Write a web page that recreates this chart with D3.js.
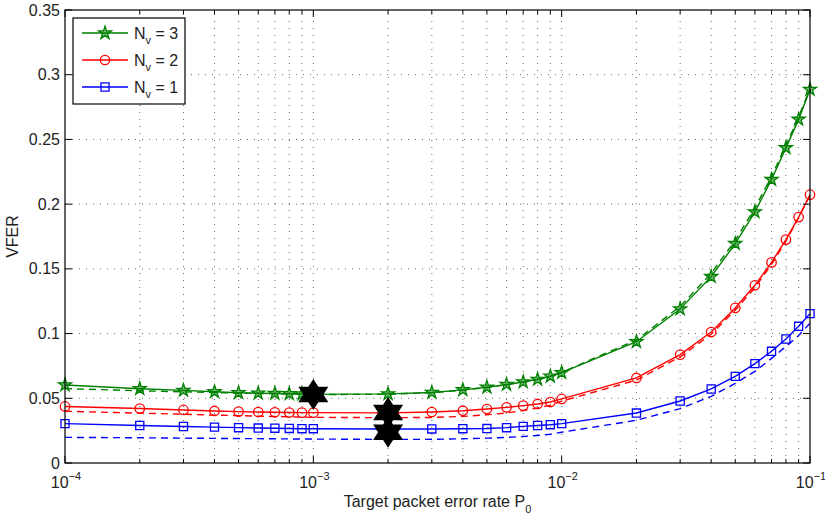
<!DOCTYPE html>
<html>
<head>
<meta http-equiv="Content-Type" content="text/html;charset=utf-8"/>
<script src="https://d3js.org/d3.v7.min.js"></script>
<style type="text/css">
body { margin: 0; background: #fff; }
text { font-family: "Liberation Sans", Arial, sans-serif; fill: #222; }
.grid { fill: none; stroke: #333; stroke-width: 1px; stroke-dasharray: 1,6; stroke-opacity: .75; }
.box { fill: none; stroke: #000; stroke-width: 1.2px; }
.tick { stroke: #000; stroke-width: 1px; }
.line { fill: none; stroke-width: 1.4px; }
.dash { fill: none; stroke-width: 1.4px; stroke-dasharray: 7,5; }
</style>
</head>
<body>
<script>

var width = 825, height = 520;
var plotLeft = 65, plotRight = 810, plotTop = 10, plotBottom = 463;

// target packet error rate P0
var p0 = [1e-4, 2e-4, 3e-4, 4e-4, 5e-4, 6e-4, 7e-4, 8e-4, 9e-4,
          1e-3, 2e-3, 3e-3, 4e-3, 5e-3, 6e-3, 7e-3, 8e-3, 9e-3,
          1e-2, 2e-2, 3e-2, 4e-2, 5e-2, 6e-2, 7e-2, 8e-2, 9e-2, 1e-1];

// VFER, solid (with markers) and dashed curves
var nv3 = [.0603, .0574, .0561, .0550, .0543, .0539, .0537, .0535, .0533,
           .0530, .0534, .0545, .0565, .0585, .0607, .0626, .0646, .0670,
           .0698, .0937, .1190, .1440, .1695, .1940, .2190, .2435, .2655, .2886];
var nv3d = [.0575, .0558, .0550, .0544, .0540, .0537, .0535, .0533, .0531,
            .0529, .0531, .0543, .0563, .0583, .0605, .0625, .0646, .0670,
            .0700, .0950, .1210, .1465, .1720, .1970, .2215, .2455, .2675, .2890];
var nv2 = [.0437, .0421, .0410, .0402, .0397, .0394, .0392, .0390, .0389,
           .0389, .0387, .0394, .0404, .0417, .0430, .0443, .0456, .0471,
           .0495, .0657, .0837, .1012, .1198, .1373, .1550, .1726, .1900, .2073];
var nv2d = [.0400, .0385, .0377, .0370, .0366, .0362, .0359, .0357, .0355,
            .0353, .0350, .0352, .0360, .0372, .0387, .0405, .0425, .0447,
            .0478, .0640, .0820, .0995, .1180, .1355, .1535, .1715, .1895, .2070];
var nv1 = [.0304, .0290, .0282, .0277, .0273, .0270, .0269, .0267, .0265,
           .0265, .0263, .0263, .0265, .0266, .0273, .0283, .0290, .0296,
           .0304, .0386, .0479, .0572, .0669, .0768, .0863, .0958, .1056, .1154];
var nv1d = [.0198, .0195, .0192, .0190, .0189, .0188, .0187, .0186, .0185,
            .0185, .0182, .0183, .0187, .0192, .0198, .0205, .0213, .0222,
            .0238, .0330, .0420, .0515, .0615, .0708, .0808, .0900, .0985, .1080];

// optimum points (big black stars)
var optX = [1e-3, 2e-3, 2e-3];
var optY = [.0530, .0390, .0238];

var yTicks = [0, .05, .1, .15, .2, .25, .3, .35];
var yLabels = ["0", "0.05", "0.1", "0.15", "0.2", "0.25", "0.3", "0.35"];
var xDecades = [1e-4, 1e-3, 1e-2, 1e-1];
var xExp = ["\u22124", "\u22123", "\u22122", "\u22121"];

var series = [
  {name: "3", color: "#008000", solid: nv3, dashed: nv3d, marker: "star"},
  {name: "2", color: "#ff0000", solid: nv2, dashed: nv2d, marker: "circle"},
  {name: "1", color: "#0000ff", solid: nv1, dashed: nv1d, marker: "square"}
];

var x = d3.scaleLog().domain([1e-4, 1e-1]).range([plotLeft, plotRight]);
var y = d3.scaleLinear().domain([0, 0.35]).range([plotBottom, plotTop]);

var svg = d3.select("body").append("svg")
    .attr("width", width)
    .attr("height", height);

// minor x positions on the log axis
var xMinor = [];
xDecades.slice(0, 3).forEach(function(d) {
  for (var k = 2; k <= 9; k++) xMinor.push(d * k);
});
var xAll = xDecades.concat(xMinor);

// grid
svg.append("g").selectAll("line")
    .data(xAll.filter(function(d) { return d > 1e-4 && d < 1e-1; }))
  .enter().append("line")
    .attr("class", "grid")
    .attr("x1", function(d) { return x(d); })
    .attr("x2", function(d) { return x(d); })
    .attr("y1", plotBottom).attr("y2", plotTop);

svg.append("g").selectAll("line")
    .data(yTicks.filter(function(d) { return d > 0 && d < .35; }))
  .enter().append("line")
    .attr("class", "grid")
    .attr("x1", plotLeft).attr("x2", plotRight)
    .attr("y1", function(d) { return y(d); })
    .attr("y2", function(d) { return y(d); });

// curves
var line = d3.line()
    .x(function(d, i) { return x(p0[i]); })
    .y(function(d) { return y(d); });

var symbols = {
  star: d3.symbol().type(d3.symbolStar).size(52),
  circle: d3.symbol().type(d3.symbolCircle).size(70),
  square: d3.symbol().type(d3.symbolSquare).size(66)
};

function drawMarker(g, s) {
  g.append("path")
    .attr("d", symbols[s.marker]())
    .attr("fill", s.marker == "star" ? "rgba(0,128,0,0.55)" : "none")
    .attr("stroke", s.color)
    .attr("stroke-width", 1.3);
}

series.forEach(function(s) {
  svg.append("path")
      .datum(s.dashed)
      .attr("class", "dash")
      .attr("stroke", s.color)
      .attr("d", line);
  svg.append("path")
      .datum(s.solid)
      .attr("class", "line")
      .attr("stroke", s.color)
      .attr("d", line);
  svg.append("g").selectAll("g")
      .data(s.solid)
    .enter().append("g")
      .attr("transform", function(d, i) { return "translate(" + x(p0[i]) + "," + y(d) + ")"; })
      .each(function() { drawMarker(d3.select(this), s); });
});

// hexagram for optimum points
function hexagram(r) {
  var up = [], dn = [];
  for (var k = 0; k < 3; k++) {
    var a = -Math.PI / 2 + k * 2 * Math.PI / 3;
    up.push([1.12 * r * Math.cos(a), r * Math.sin(a)]);
    dn.push([1.12 * r * Math.cos(a + Math.PI), r * Math.sin(a + Math.PI)]);
  }
  return "M" + up.join("L") + "Z M" + dn.join("L") + "Z";
}

svg.append("g").selectAll("path")
    .data(optX)
  .enter().append("path")
    .attr("transform", function(d, i) { return "translate(" + x(d) + "," + y(optY[i]) + ")"; })
    .attr("d", hexagram(15.5))
    .attr("fill", "#000")
    .attr("fill-rule", "nonzero");

// axes box and ticks
svg.append("rect")
    .attr("class", "box")
    .attr("x", plotLeft).attr("y", plotTop)
    .attr("width", plotRight - plotLeft).attr("height", plotBottom - plotTop);

var ticks = svg.append("g");
xAll.forEach(function(d) {
  var len = xDecades.indexOf(d) >= 0 ? 7 : 4;
  ticks.append("line").attr("class", "tick")
      .attr("x1", x(d)).attr("x2", x(d)).attr("y1", plotBottom).attr("y2", plotBottom - len);
  ticks.append("line").attr("class", "tick")
      .attr("x1", x(d)).attr("x2", x(d)).attr("y1", plotTop).attr("y2", plotTop + len);
});
yTicks.forEach(function(d) {
  ticks.append("line").attr("class", "tick")
      .attr("x1", plotLeft).attr("x2", plotLeft + 7).attr("y1", y(d)).attr("y2", y(d));
  ticks.append("line").attr("class", "tick")
      .attr("x1", plotRight).attr("x2", plotRight - 7).attr("y1", y(d)).attr("y2", y(d));
});

// tick labels
svg.append("g").selectAll("text")
    .data(yTicks)
  .enter().append("text")
    .attr("x", plotLeft - 5)
    .attr("y", function(d) { return y(d) + 5.5; })
    .attr("text-anchor", "end")
    .style("font-size", "16px")
    .text(function(d, i) { return yLabels[i]; });

var xl = svg.append("g").selectAll("text")
    .data(xDecades)
  .enter().append("text")
    .attr("x", function(d) { return x(d) + 1; })
    .attr("y", 488)
    .attr("text-anchor", "middle")
    .style("font-size", "16px");
xl.append("tspan").text("10");
xl.append("tspan")
    .attr("dy", -8)
    .style("font-size", "11px")
    .text(function(d, i) { return xExp[i]; });

// axis titles
svg.append("text")
    .attr("transform", "translate(18," + ((plotTop + plotBottom) / 2) + ") rotate(-90)")
    .attr("text-anchor", "middle")
    .style("font-size", "16px")
    .text("VFER");

var xt = svg.append("text")
    .attr("x", (plotLeft + plotRight) / 2)
    .attr("y", 507)
    .attr("text-anchor", "middle")
    .style("font-size", "16px");
xt.append("tspan").text("Target packet error rate P");
xt.append("tspan").attr("dy", 6).style("font-size", "11px").text("0");

// legend
var lg = svg.append("g");
lg.append("rect")
    .attr("x", 73).attr("y", 18)
    .attr("width", 112).attr("height", 86)
    .attr("fill", "#fff")
    .attr("stroke", "#000")
    .attr("stroke-width", 1.2);

series.forEach(function(s, i) {
  var ly = 33 + i * 27;
  lg.append("line")
      .attr("x1", 82).attr("x2", 128)
      .attr("y1", ly).attr("y2", ly)
      .attr("stroke", s.color)
      .attr("stroke-width", 1.4);
  drawMarker(lg.append("g").attr("transform", "translate(105," + ly + ")"), s);
  var t = lg.append("text")
      .attr("x", 134).attr("y", ly + 5.5)
      .style("font-size", "16px");
  t.append("tspan").text("N");
  t.append("tspan").attr("dy", 5).style("font-size", "11px").text("v");
  t.append("tspan").attr("dy", -5).text(" = " + s.name);
});

</script>
</body>
</html>
